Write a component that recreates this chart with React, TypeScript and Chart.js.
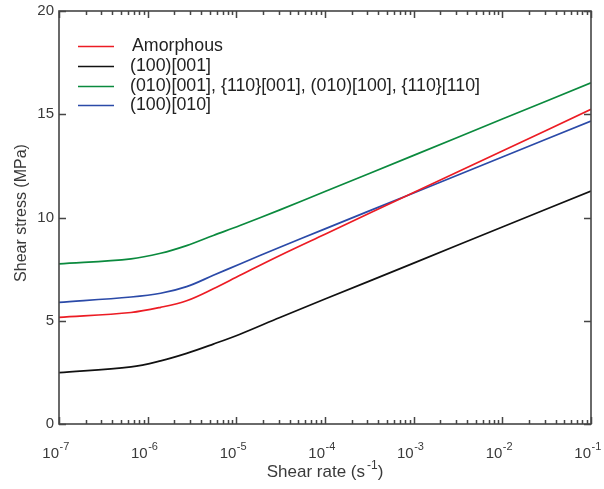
import React, { useEffect, useRef } from "react";
import { Chart, registerables } from "chart.js";

Chart.register(...registerables);

const shearRate = [1e-7, 6.5e-7, 1.4e-6, 2.75e-6, 5.5e-6, 1.1e-5, 3.1e-5, 1e-4, 1e-3, 1e-2, 1e-1];
const amorphous = [5.16, 5.4, 5.65, 5.97, 6.55, 7.2, 8.16, 9.19, 11.21, 13.22, 15.24];
const s100_001 = [2.49, 2.77, 3.06, 3.42, 3.87, 4.35, 5.16, 6.05, 7.79, 9.54, 11.28];
const s010_001 = [7.75, 8.0, 8.27, 8.64, 9.13, 9.61, 10.37, 11.26, 13.01, 14.77, 16.52];
const s100_010 = [5.89, 6.15, 6.33, 6.65, 7.2, 7.75, 8.56, 9.45, 11.19, 12.93, 14.67];

const seriesNames = [
  "Amorphous",
  "(100)[001]",
  "(010)[001], {110}[001], (010)[100], {110}[110]",
  "(100)[010]",
];
const seriesColors = ["#ec1c24", "#111111", "#0b8a3e", "#2b4aa8"];
const yTicks = [0, 5, 10, 15, 20];
const xExponents = [-7, -6, -5, -4, -3, -2, -1];
const xTitle = "Shear rate (s";
const xTitleSup = "-1";
const yTitle = "Shear stress (MPa)";

const FONT = '"Liberation Sans", Arial, Helvetica, sans-serif';
const AXIS = "#454545";
const TEXT = "#3a3a3a";

const decorPlugin = {
  id: "decor",
  afterDraw(chart: any) {
    const ctx = chart.ctx as CanvasRenderingContext2D;
    const xs = chart.scales.x;
    const ys = chart.scales.y;
    const { left, right, top, bottom } = chart.chartArea;
    ctx.save();
    // box
    ctx.strokeStyle = AXIS;
    ctx.lineWidth = 1.6;
    ctx.strokeRect(left, top, right - left, bottom - top);
    // x ticks
    ctx.lineWidth = 1.5;
    for (const e of xExponents) {
      for (let m = 1; m <= 9; m++) {
        if (e === -1 && m > 1) break;
        const v = m * Math.pow(10, e);
        const px = Math.round(xs.getPixelForValue(v)) + 0.5;
        const len = m === 1 ? 7 : 4;
        ctx.beginPath();
        ctx.moveTo(px, bottom);
        ctx.lineTo(px, bottom - len);
        ctx.moveTo(px, top);
        ctx.lineTo(px, top + len);
        ctx.stroke();
      }
    }
    // y ticks
    for (const t of yTicks) {
      const py = Math.round(ys.getPixelForValue(t)) + 0.5;
      ctx.beginPath();
      ctx.moveTo(left, py);
      ctx.lineTo(left + 7, py);
      ctx.moveTo(right, py);
      ctx.lineTo(right - 7, py);
      ctx.stroke();
    }
    // y tick labels
    ctx.fillStyle = TEXT;
    ctx.font = `15px ${FONT}`;
    ctx.textAlign = "right";
    ctx.textBaseline = "middle";
    for (const t of yTicks) {
      ctx.fillText(String(t), left - 5, ys.getPixelForValue(t));
    }
    // x tick labels
    ctx.textBaseline = "alphabetic";
    for (const e of xExponents) {
      const px = xs.getPixelForValue(Math.pow(10, e));
      ctx.font = `15px ${FONT}`;
      ctx.textAlign = "right";
      ctx.fillText("10", px, bottom + 34);
      ctx.font = `11px ${FONT}`;
      ctx.textAlign = "left";
      ctx.fillText(String(e), px + 0.5, bottom + 26);
    }
    // x title
    ctx.font = `17px ${FONT}`;
    const w1 = ctx.measureText(xTitle).width;
    ctx.font = `12px ${FONT}`;
    const w2 = ctx.measureText(xTitleSup).width;
    ctx.font = `17px ${FONT}`;
    const w3 = ctx.measureText(")").width;
    const total = w1 + 2 + w2 + w3;
    const cx = (left + right) / 2;
    const sx = cx - total / 2;
    const by = bottom + 53;
    ctx.textAlign = "left";
    ctx.fillText(xTitle, sx, by);
    ctx.font = `12px ${FONT}`;
    ctx.fillText(xTitleSup, sx + w1 + 2, by - 8);
    ctx.font = `17px ${FONT}`;
    ctx.fillText(")", sx + w1 + 2 + w2, by);
    // y title
    ctx.save();
    ctx.translate(26, 213);
    ctx.rotate(-Math.PI / 2);
    ctx.textAlign = "center";
    ctx.textBaseline = "alphabetic";
    ctx.font = `16px ${FONT}`;
    ctx.fillText(yTitle, 0, 0);
    ctx.restore();
    // legend
    const rowY = [46.5, 66.5, 86.5, 105.5];
    ctx.font = `17.8px ${FONT}`;
    ctx.textBaseline = "middle";
    ctx.textAlign = "left";
    seriesNames.forEach((name, i) => {
      ctx.strokeStyle = seriesColors[i];
      ctx.lineWidth = 1.6;
      ctx.beginPath();
      ctx.moveTo(78, rowY[i]);
      ctx.lineTo(114, rowY[i]);
      ctx.stroke();
      ctx.fillStyle = "#222";
      ctx.fillText(name, i === 0 ? 132 : 130, rowY[i]);
    });
    ctx.restore();
  },
};

export default function App() {
  const ref = useRef<HTMLCanvasElement | null>(null);
  useEffect(() => {
    if (!ref.current) return;
    const mk = (data: number[], i: number) => ({
      label: seriesNames[i],
      data: shearRate.map((x, k) => ({ x, y: data[k] })),
      borderColor: seriesColors[i],
      borderWidth: 1.7,
      pointRadius: 0,
      fill: false,
      tension: 0.35,
    });
    const chart = new Chart(ref.current, {
      type: "line",
      data: {
        datasets: [mk(amorphous, 0), mk(s100_001, 1), mk(s010_001, 2), mk(s100_010, 3)],
      },
      options: {
        responsive: false,
        animation: false,
        layout: { padding: { left: 59, right: 13, top: 11, bottom: 65 } },
        scales: {
          x: { type: "logarithmic", min: 1e-7, max: 1e-1, display: false },
          y: { type: "linear", min: 0, max: 20, display: false },
        },
        plugins: { legend: { display: false }, tooltip: { enabled: false } },
      },
      plugins: [decorPlugin],
    });
    return () => chart.destroy();
  }, []);
  return (
    <div style={{ position: "fixed", left: 0, top: 0, width: 604, height: 489, background: "#fff" }}>
      <canvas ref={ref} width={604} height={489} style={{ display: "block" }} />
    </div>
  );
}
